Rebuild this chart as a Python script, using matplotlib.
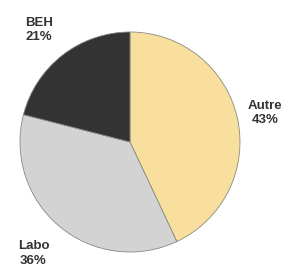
import matplotlib
matplotlib.use("Agg")
import matplotlib.pyplot as plt

categories = ["Autre", "Labo", "BEH"]
values = [43, 36, 21]
colors = ["#F9DF9E", "#D3D3D3", "#333333"]

fig = plt.figure(figsize=(2.86, 2.75), dpi=100)
ax = fig.add_axes([0, 0, 1, 1])
ax.pie(values, colors=colors, startangle=90, counterclock=False, radius=1.0,
       wedgeprops=dict(edgecolor="#8a8a80", linewidth=0.6))
ax.set_xlim(-130/110, 156/110)
ax.set_ylim(-133/110, 142/110)
ax.set_aspect("equal")
ax.axis("off")

label_pos = {"Autre": (1.227, 0.264), "Labo": (-0.877, -1.014), "BEH": (-0.827, 1.018)}
for cat, val in zip(categories, values):
    x, y = label_pos[cat]
    ax.text(x, y, f"{cat}\n{val}%", ha="center", va="center", fontsize=9.5,
            family="Liberation Sans", fontweight="bold", color="#333333",
            linespacing=1.3)

fig.savefig("out.png", dpi=100)
